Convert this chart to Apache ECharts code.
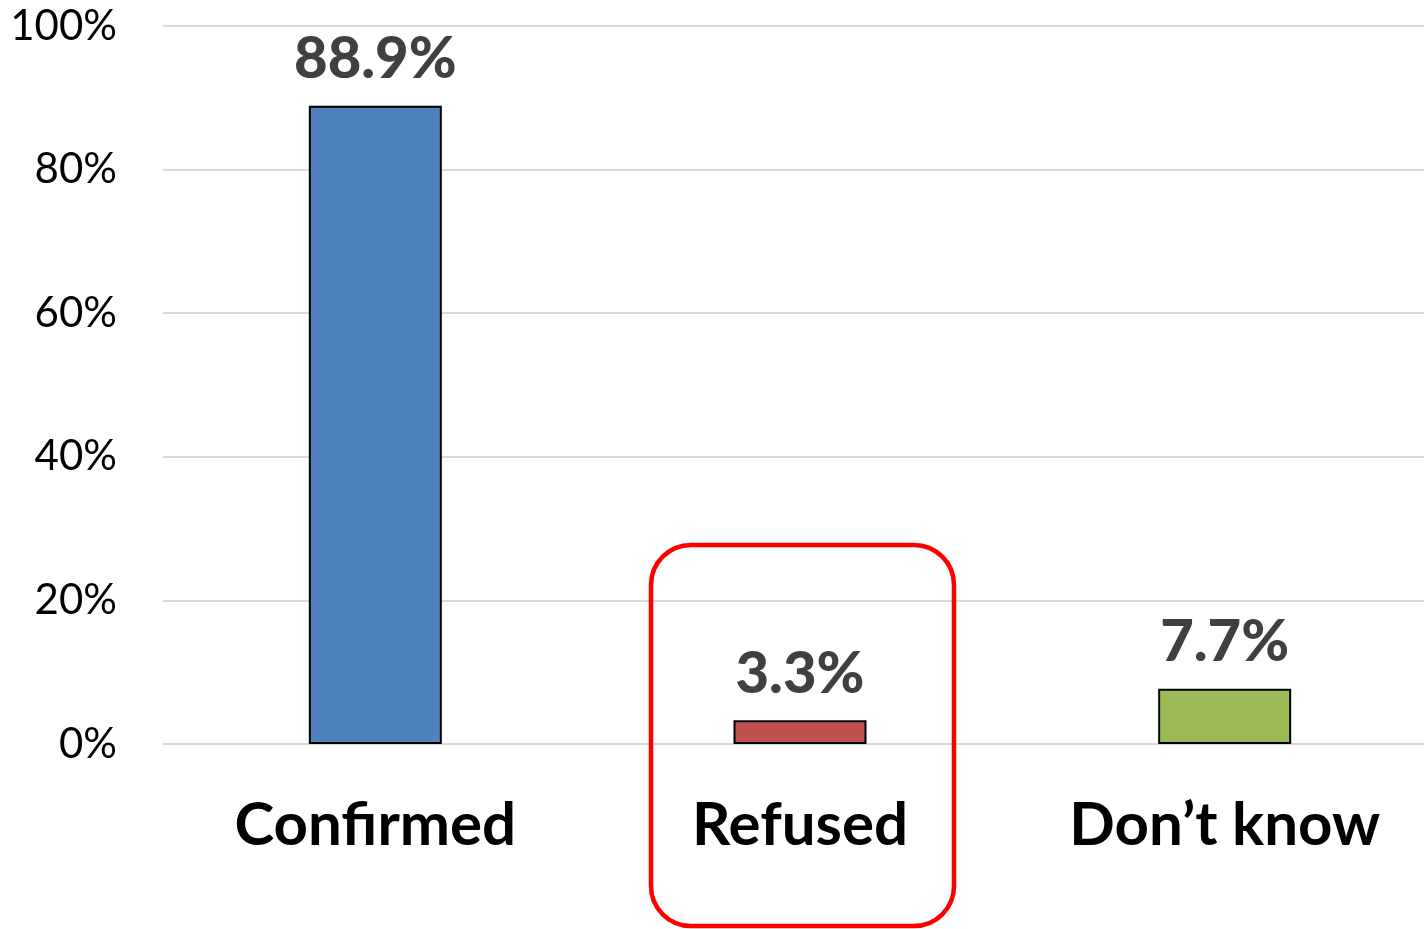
<!DOCTYPE html>
<html>
<head>
<meta charset="utf-8">
<script src="https://cdn.jsdelivr.net/npm/echarts@6/dist/echarts.min.js"></script>
<style>
  html, body { margin: 0; padding: 0; background: #fff; overflow: hidden; }
  /* plot runs a little past the right edge of the window, like the original */
  #chart { width: 1437px; height: 929px; }
</style>
</head>
<body>
<div id="chart"></div>
<script>
// answers and their share, in percent
var categories = ['Confirmed', 'Refused', 'Don\u2019t know'];
var values = [88.9, 3.3, 7.7];
var barColors = ['#4F81BD', '#C0504D', '#9BBB59'];
var yTicks = [0, 20, 40, 60, 80, 100];

var myChart = echarts.init(document.getElementById('chart'));

var opt = {
  backgroundColor: '#ffffff',
  animation: false,
  grid: { left: 163, right: 0, top: 26, bottom: 185 },
  xAxis: {
    type: 'category',
    data: categories,
    axisLine: { show: false },
    axisTick: { show: false },
    axisLabel: {
      margin: 52,
      color: '#000',
      fontFamily: 'Lato',
      fontWeight: 'bold',
      fontSize: 60
    }
  },
  yAxis: {
    type: 'value',
    min: yTicks[0],
    max: yTicks[yTicks.length - 1],
    interval: 20,
    axisLine: { show: false },
    axisTick: { show: false },
    splitLine: { lineStyle: { color: '#d9d9d9', width: 2 } },
    axisLabel: {
      margin: 46,
      color: '#000',
      fontFamily: 'Lato',
      fontSize: 42,
      formatter: '{value}%'
    }
  },
  series: [{
    type: 'bar',
    barWidth: 133,
    data: values.map(function (v, i) {
      return { value: v, itemStyle: { color: barColors[i] } };
    }),
    itemStyle: { borderColor: '#000', borderWidth: 2 },
    label: {
      show: true,
      position: 'top',
      distance: 17,
      color: '#404040',
      fontFamily: 'Lato',
      fontWeight: 900,
      fontSize: 58,
      formatter: function (p) { return p.value.toFixed(1) + '%'; }
    }
  }],
  // red rounded box highlighting "Refused"
  graphic: [{
    type: 'rect',
    shape: { x: 651, y: 545, width: 303, height: 381, r: 40 },
    style: { fill: 'none', stroke: '#FF0000', lineWidth: 4.5 },
    z: 100
  }]
};

myChart.setOption(opt);
</script>
</body>
</html>
